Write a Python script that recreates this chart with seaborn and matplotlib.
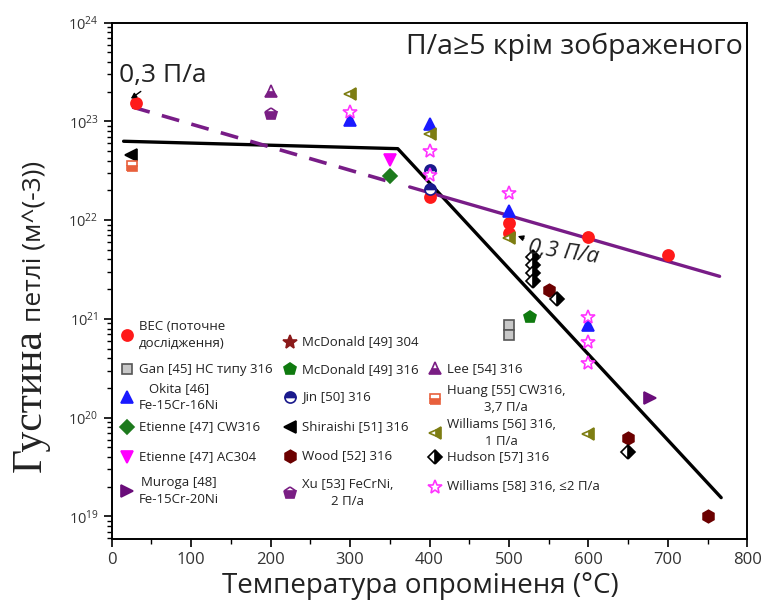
import matplotlib
matplotlib.use("Agg")
import matplotlib.pyplot as plt
from matplotlib.legend import Legend
from matplotlib.ticker import MultipleLocator, LogLocator
import seaborn as sns

sns.set_theme(style="white")
plt.rcParams["font.family"] = ["Open Sans", "DejaVu Sans"]

# --- data (temperature in C, loop density in m^-3) ---
ves_t = [30, 400, 500, 500, 600, 700]
ves_n = [1.52e23, 1.73e22, 9.4e21, 7.4e21, 6.8e21, 4.4e21]
gan_t = [500, 500]
gan_n = [8.6e20, 6.9e20]
okita_t = [300, 400, 500, 600]
okita_n = [1.03e23, 9.4e22, 1.23e22, 8.7e20]
etienne_cw_t = [350]
etienne_cw_n = [2.8e22]
etienne_ac_t = [350]
etienne_ac_n = [4.1e22]
muroga_t = [678]
muroga_n = [1.6e20]
mcd304_t = []
mcd304_n = []
mcd316_t = [526]
mcd316_n = [1.05e21]
jin_t = [400, 400]
jin_n = [3.2e22, 2.05e22]
shiraishi_t = [24]
shiraishi_n = [4.6e22]
wood_t = [550, 650, 750]
wood_n = [1.95e21, 6.2e19, 1.0e19]
xu_t = [200]
xu_n = [1.2e23]
lee_t = [200]
lee_n = [2.05e23]
huang_t = [25]
huang_n = [3.5e22]
will56_t = [300, 400, 500, 600]
will56_n = [1.9e23, 7.4e22, 6.6e21, 6.9e19]
hudson_t = [530, 530, 530, 530, 560, 650]
hudson_n = [4.2e21, 3.5e21, 2.9e21, 2.4e21, 1.6e21, 4.5e19]
will58_t = [300, 400, 400, 500, 600, 600, 600]
will58_n = [1.25e23, 5.0e22, 2.9e22, 1.87e22, 1.05e21, 5.9e20, 3.6e20]

# trend lines
fit_black_t = [15, 360, 767]
fit_black_n = [6.3e22, 5.3e22, 1.55e19]
fit_purple_t = [375, 765]
fit_purple_n = [2.17e22, 2.7e21]
fit_dash_t = [26, 350]
fit_dash_n = [1.4e23, 2.45e22]

PURPLE = "#781c87"
TEXT = "#222222"

fig, ax = plt.subplots(figsize=(7.65, 6.05), dpi=100)
fig.subplots_adjust(left=0.146, right=0.977, top=0.9625, bottom=0.109)

sns.lineplot(x=fit_black_t, y=fit_black_n, ax=ax, color="black", lw=2.4,
             estimator=None, sort=False, zorder=2)
sns.lineplot(x=fit_purple_t, y=fit_purple_n, ax=ax, color=PURPLE, lw=2.4,
             estimator=None, sort=False, zorder=2)
sns.lineplot(x=fit_dash_t, y=fit_dash_n, ax=ax, color=PURPLE, lw=2.6,
             estimator=None, sort=False, zorder=2)
ax.lines[-1].set_dashes([5, 3.5])

handles = {}


def pts(key, t, n, marker, color, ms=8, fill="full", mfc=None, mec=None, alt="white"):
    h, = ax.plot(t, n, linestyle="none", marker=marker, ms=ms, color=color,
                 fillstyle=fill, markerfacecolor=mfc or color,
                 markeredgecolor=mec or color, markerfacecoloralt=alt,
                 markeredgewidth=1.2, zorder=3)
    handles[key] = h


pts("ves", ves_t, ves_n, "o", "#ff1a1a")
pts("gan", gan_t, gan_n, "s", "#9a9a9a", ms=7, mfc="#c8c8c8", mec="#555555")
pts("okita", okita_t, okita_n, "^", "#1a1aff")
pts("etcw", etienne_cw_t, etienne_cw_n, "D", "#1d7a1d", ms=7)
pts("etac", etienne_ac_t, etienne_ac_n, "v", "#ff00ff")
pts("muroga", muroga_t, muroga_n, ">", "#6a0d7a")
pts("mcd304", mcd304_t, mcd304_n, "*", "#8b1a1a", ms=10)
pts("mcd316", mcd316_t, mcd316_n, "p", "#0f7a0f", ms=9)
pts("jin", jin_t, jin_n, "o", "#1a1a8c", fill="top")
pts("shir", shiraishi_t, shiraishi_n, "<", "black")
pts("wood", wood_t, wood_n, "h", "#6b0000", ms=9)
pts("xu", xu_t, xu_n, "p", "#7a1e84", fill="bottom", ms=9)
pts("lee", lee_t, lee_n, "^", "#7a1e84", fill="bottom")
pts("huang", huang_t, huang_n, "s", "#e8603c", ms=7, fill="bottom")
pts("w56", will56_t, will56_n, "<", "#7d7d12", fill="right")
pts("hudson", hudson_t, hudson_n, "D", "black", ms=7, fill="right")
pts("w58", will58_t, will58_n, "*", "#ff33ff", ms=10, mfc="white")

ax.set_yscale("log")
ax.set_xlim(0, 800)
ax.set_ylim(5.9e18, 1e24)
ax.xaxis.set_major_locator(MultipleLocator(100))
ax.xaxis.set_minor_locator(MultipleLocator(50))
ax.yaxis.set_major_locator(LogLocator(base=10, numticks=12))
ax.yaxis.set_minor_locator(LogLocator(base=10, subs=range(2, 10), numticks=12))
ax.tick_params(which="both", direction="out", color="black", left=True, bottom=True,
               top=False, right=False)
ax.tick_params(which="major", length=6, width=1.2)
ax.tick_params(which="minor", length=3.5, width=1)
ax.tick_params(axis="x", labelsize=12, labelcolor="#333333")
ax.tick_params(axis="y", labelsize=10.5, labelcolor="#333333")
for s in ax.spines.values():
    s.set_color("black")
    s.set_linewidth(1.4)

ax.annotate("0,3 П/а", xy=(24, 1.7e23), xytext=(9, 2.5e23), fontsize=19,
            ha="left", va="baseline", color=TEXT,
            arrowprops=dict(arrowstyle="-|>", color="black", lw=1, mutation_scale=8,
                            shrinkA=0, shrinkB=0))
ax.annotate("0,3 П/а", xy=(511, 6.9e21), xytext=(569, 4.7e21), fontsize=16,
            style="italic", rotation=-8, ha="center", va="center", color=TEXT,
            arrowprops=dict(arrowstyle="-|>", color="black", lw=1, mutation_scale=8,
                            shrinkA=14, shrinkB=0))
ax.text(0.992, 0.953, "П/а≥5 крім зображеного", transform=ax.transAxes,
        ha="right", va="center", fontsize=20.5, color=TEXT)

# legend: three columns, one small legend per entry so rows stay on a fixed grid
COL_X = [0.0236, 0.280, 0.509]
legend_items = [
    ("ves", "ВЕС (поточне\nдослідження)", 0, 0.395, False),
    ("gan", "Gan [45] НС типу 316", 0, 0.329, False),
    ("okita", "Okita [46]\nFe-15Cr-16Ni", 0, 0.275, True),
    ("etcw", "Etienne [47] CW316", 0, 0.217, False),
    ("etac", "Etienne [47] AC304", 0, 0.159, False),
    ("muroga", "Muroga [48]\nFe-15Cr-20Ni", 0, 0.093, True),
    ("mcd304", "McDonald [49] 304", 1, 0.382, False),
    ("mcd316", "McDonald [49] 316", 1, 0.329, False),
    ("jin", "Jin [50] 316", 1, 0.275, False),
    ("shir", "Shiraishi [51] 316", 1, 0.217, False),
    ("wood", "Wood [52] 316", 1, 0.161, False),
    ("xu", "Xu [53] FeCrNi,\n2 П/а", 1, 0.089, True),
    ("lee", "Lee [54] 316", 2, 0.331, False),
    ("huang", "Huang [55] CW316,\n3,7 П/а", 2, 0.271, True),
    ("w56", "Williams [56] 316,\n1 П/а", 2, 0.205, True),
    ("hudson", "Hudson [57] 316", 2, 0.159, False),
    ("w58", "Williams [58] 316, ≤2 П/а", 2, 0.101, False),
]
LEG_FS = 9.5
HANDLE_LEN = 0.8
half_handle = HANDLE_LEN * LEG_FS * fig.dpi / 72 / 2 / (ax.get_position().width * fig.bbox.width)
for key, label, col, y, centered in legend_items:
    lg = Legend(ax, [handles[key]], [label], loc="center left",
                bbox_to_anchor=(COL_X[col] - half_handle, y), bbox_transform=ax.transAxes,
                frameon=False, fontsize=LEG_FS, handlelength=HANDLE_LEN,
                handletextpad=0.5, borderpad=0, borderaxespad=0, labelcolor=TEXT)
    row = lg._legend_handle_box.get_children()[0].get_children()[0]
    row.align = "center"
    txt = lg.get_texts()[0]
    txt.set_linespacing(1.45)
    if centered:
        txt.set_multialignment("center")
    ax.add_artist(lg)

# axis titles
fig.text(0.549, 0.02, "Температура опроміненя (°C)", ha="center", va="baseline",
         fontsize=20, color=TEXT)
ylab1 = fig.text(0.0536, 0.22, "Густина", rotation=90, rotation_mode="anchor",
                 ha="left", va="baseline", fontsize=30, color=TEXT,
                 family=["Liberation Serif", "DejaVu Serif"])
fig.canvas.draw()
bb = ylab1.get_window_extent().transformed(fig.transFigure.inverted())
fig.text(0.0536, bb.y1 + 0.012, "петлі (м^(-3))", rotation=90, rotation_mode="anchor",
         ha="left", va="baseline", fontsize=19, color=TEXT)

fig.savefig("out.png", dpi=100)
